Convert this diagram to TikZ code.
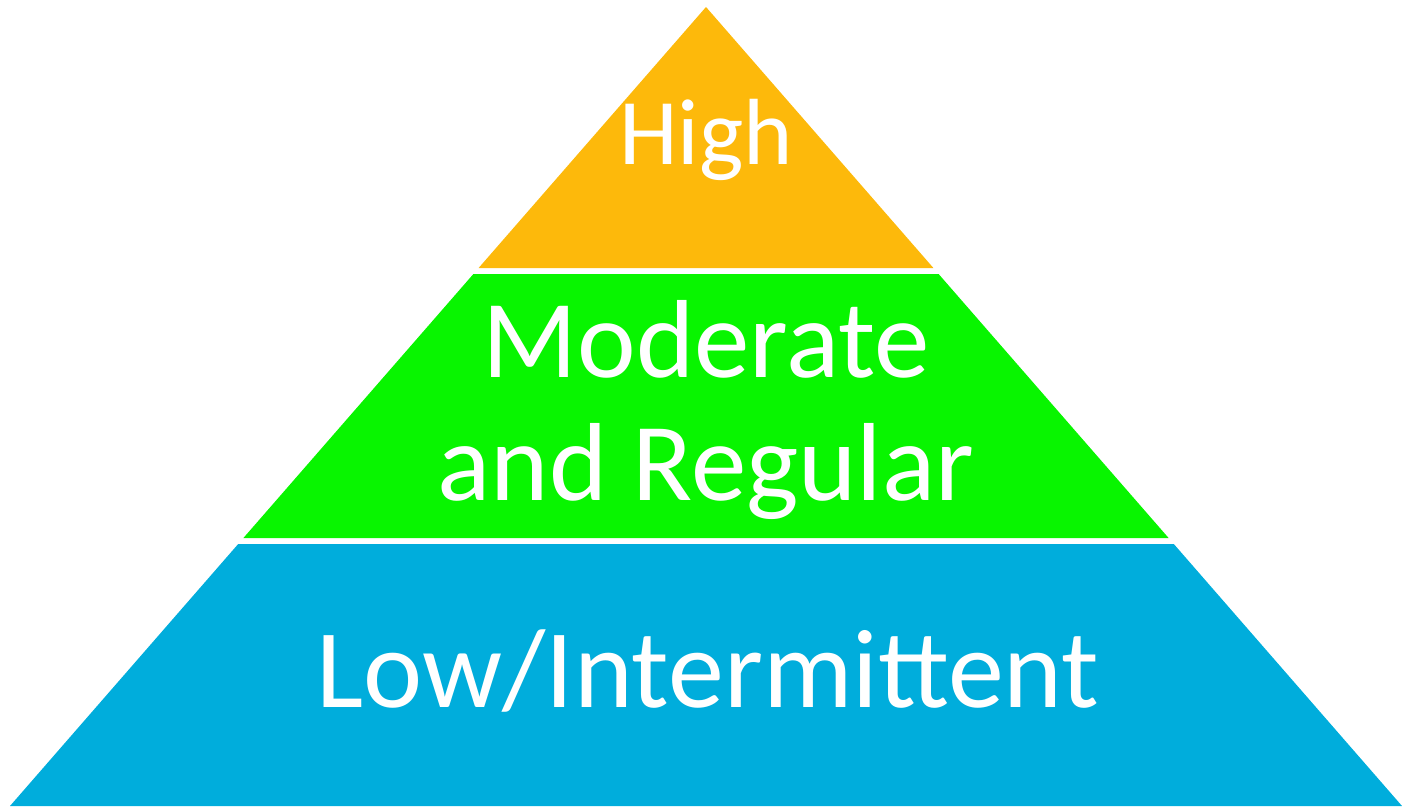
\documentclass[tikz,border=0pt]{standalone}
\usepackage{fontspec}
\setmainfont{Carlito}
\definecolor{tierA}{RGB}{253,185,11}
\definecolor{tierB}{RGB}{8,245,0}
\definecolor{tierC}{RGB}{0,173,220}
\begin{document}
\begin{tikzpicture}[x=1pt,y=-1pt,
  lbl/.style={text=white,inner sep=0pt,anchor=base,align=center}]
\useasboundingbox (0,0) rectangle (1402,806);
% top tier
\fill[tierA] (706,7) -- (933.4,268) -- (478.6,268) -- cycle;
% middle tier
\fill[tierB] (473.4,274) -- (938.6,274) -- (1168.6,538) -- (243.4,538) -- cycle;
% bottom tier
\fill[tierC] (238.2,544) -- (1173.8,544) -- (1402,806) -- (10,806) -- cycle;
\node[lbl,font=\fontsize{94}{94}\selectfont] (high) at (706,164) {High};
\node[lbl,font=\fontsize{111}{123}\selectfont] (mod) at (706,377) {Moderate};
\node[lbl,font=\fontsize{111}{123}\selectfont] (reg) at (706,500) {and Regular};
\node[lbl,font=\fontsize{112}{112}\selectfont] (low) at (708,707) {Low/Intermittent};
\end{tikzpicture}
\end{document}
